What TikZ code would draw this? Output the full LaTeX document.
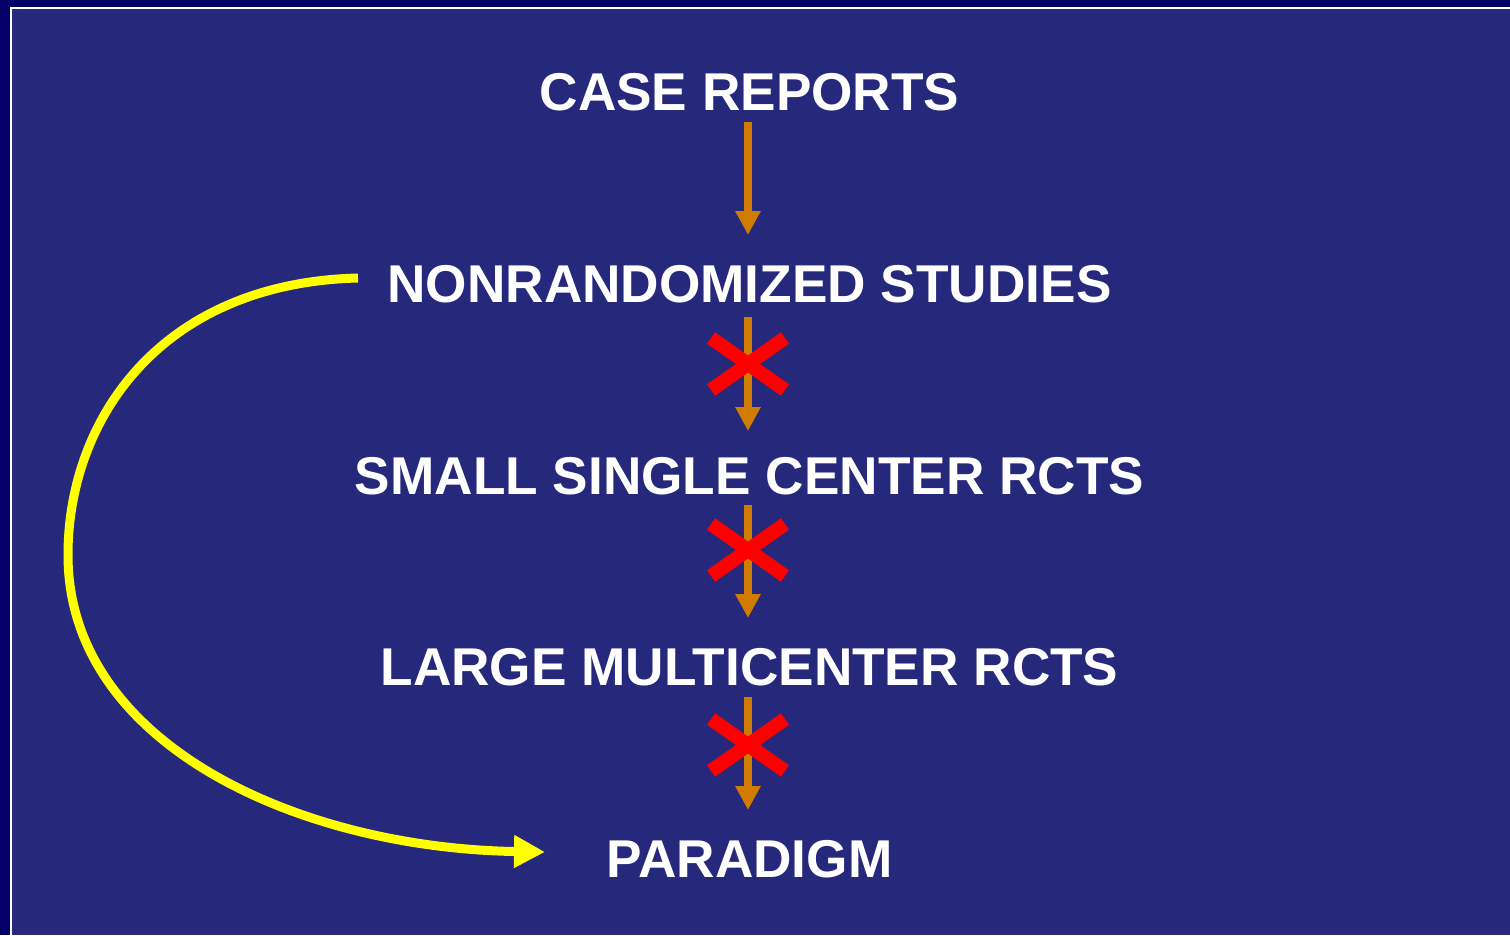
\documentclass[tikz,border=0pt]{standalone}
\usepackage{fontspec}
\setmainfont{Liberation Sans}
\usetikzlibrary{arrows.meta,calc}
\definecolor{outerbg}{RGB}{0,0,102}
\definecolor{innerbg}{RGB}{38,40,124}
\definecolor{arrorange}{RGB}{208,124,0}
\definecolor{xred}{RGB}{255,0,0}
\definecolor{curveyellow}{RGB}{255,255,0}
\tikzset{
  lbl/.style={text=white, font=\fontsize{53.2}{60}\selectfont\bfseries, inner sep=0pt, anchor=base},
  oarrow/.style={draw=arrorange, line width=8pt, -{Triangle[width=24pt,length=24pt,fill=arrorange]}},
  redx/.style={draw=xred, line width=14pt},
  yarrow/.style={draw=curveyellow, line width=9pt, -{Triangle[width=31pt,length=31pt,fill=curveyellow]}}
}
\begin{document}
\begin{tikzpicture}[x=1pt,y=-1pt]
\useasboundingbox (0,0) rectangle (1510,935);
\fill[outerbg] (0,0) rectangle (1510,935);
\fill[white] (10,7) rectangle (1510,935);
\fill[innerbg] (12,9) rectangle (1510,935);

\node[lbl] (cr) at (749.5,110) {CASE REPORTS};
\node[lbl] (nr) at (749.5,302) {NONRANDOMIZED STUDIES};
\node[lbl] (ss) at (749.5,494) {SMALL SINGLE CENTER RCTS};
\node[lbl] (lm) at (749.5,685) {LARGE MULTICENTER RCTS};
\node[lbl] (pd) at (749.5,877) {PARADIGM};

\draw[oarrow] ($(cr.base)+(-1.5,12)$) -- ($(nr.base)+(-1.5,-67)$);
\draw[oarrow] ($(nr.base)+(-1.5,15)$) -- ($(ss.base)+(-1.5,-63)$);
\draw[oarrow] ($(ss.base)+(-1.5,11)$) -- ($(lm.base)+(-1.5,-67)$);
\draw[oarrow] ($(lm.base)+(-1.5,12)$) -- ($(pd.base)+(-1.5,-67)$);

\foreach \cy in {364,550,745} {
  \draw[redx] (711,\cy-26) -- (785,\cy+26);
  \draw[redx] (711,\cy+26) -- (785,\cy-26);
}

\coordinate (ystart) at (358,278);
\coordinate (yend) at (545,852);
\draw[yarrow] (ystart) .. controls (160,283) and (68,420) .. (68,555)
  .. controls (68,745) and (300,848) .. (yend);
\end{tikzpicture}
\end{document}
